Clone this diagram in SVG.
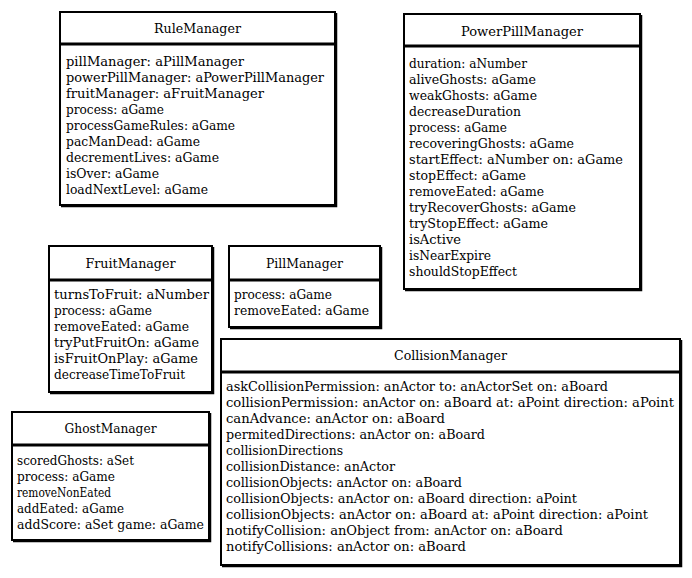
<svg xmlns="http://www.w3.org/2000/svg" width="692" height="578" viewBox="0 0 692 578">
<style>
.box{fill:#fff;stroke:#000;stroke-width:2}
.shadow{fill:none;stroke:#000;stroke-width:1.5}
.sep{stroke:#000;stroke-width:3}
text{font-family:"DejaVu Serif","Liberation Serif",serif;font-size:12px;fill:#000}
.t{text-anchor:middle}
</style>
<rect width="692" height="578" fill="#fff"/>
<g id="connectors"></g>
<g id="RuleManager">
<rect class="box" x="60" y="12" width="275" height="193"/>
<path class="shadow" d="M336.5,13 V206.5 H61"/>
<line class="sep" x1="60" y1="44" x2="335" y2="44"/>
<text class="t" x="197.5" y="33" textLength="87" lengthAdjust="spacingAndGlyphs">RuleManager</text>
<text x="66" y="66" textLength="178" lengthAdjust="spacingAndGlyphs">pillManager: aPillManager</text>
<text x="66" y="82" textLength="258" lengthAdjust="spacingAndGlyphs">powerPillManager: aPowerPillManager</text>
<text x="66" y="98" textLength="198" lengthAdjust="spacingAndGlyphs">fruitManager: aFruitManager</text>
<text x="66" y="114" textLength="98" lengthAdjust="spacingAndGlyphs">process: aGame</text>
<text x="66" y="130" textLength="169" lengthAdjust="spacingAndGlyphs">processGameRules: aGame</text>
<text x="66" y="146" textLength="134" lengthAdjust="spacingAndGlyphs">pacManDead: aGame</text>
<text x="66" y="162" textLength="153" lengthAdjust="spacingAndGlyphs">decrementLives: aGame</text>
<text x="66" y="178" textLength="93" lengthAdjust="spacingAndGlyphs">isOver: aGame</text>
<text x="66" y="194" textLength="142" lengthAdjust="spacingAndGlyphs">loadNextLevel: aGame</text>
</g>
<g id="PowerPillManager">
<rect class="box" x="404" y="14" width="236" height="275"/>
<path class="shadow" d="M641.5,15 V290.5 H405"/>
<line class="sep" x1="404" y1="46" x2="640" y2="46"/>
<text class="t" x="522" y="36" textLength="122" lengthAdjust="spacingAndGlyphs">PowerPillManager</text>
<text x="409" y="68" textLength="118" lengthAdjust="spacingAndGlyphs">duration: aNumber</text>
<text x="409" y="84" textLength="127" lengthAdjust="spacingAndGlyphs">aliveGhosts: aGame</text>
<text x="409" y="100" textLength="128" lengthAdjust="spacingAndGlyphs">weakGhosts: aGame</text>
<text x="409" y="116" textLength="112" lengthAdjust="spacingAndGlyphs">decreaseDuration</text>
<text x="409" y="132" textLength="98" lengthAdjust="spacingAndGlyphs">process: aGame</text>
<text x="409" y="148" textLength="165" lengthAdjust="spacingAndGlyphs">recoveringGhosts: aGame</text>
<text x="409" y="164" textLength="214" lengthAdjust="spacingAndGlyphs">startEffect: aNumber on: aGame</text>
<text x="409" y="180" textLength="117" lengthAdjust="spacingAndGlyphs">stopEffect: aGame</text>
<text x="409" y="196" textLength="135" lengthAdjust="spacingAndGlyphs">removeEated: aGame</text>
<text x="409" y="212" textLength="167" lengthAdjust="spacingAndGlyphs">tryRecoverGhosts: aGame</text>
<text x="409" y="228" textLength="139" lengthAdjust="spacingAndGlyphs">tryStopEffect: aGame</text>
<text x="409" y="244" textLength="52" lengthAdjust="spacingAndGlyphs">isActive</text>
<text x="409" y="260" textLength="82" lengthAdjust="spacingAndGlyphs">isNearExpire</text>
<text x="409" y="276" textLength="108" lengthAdjust="spacingAndGlyphs">shouldStopEffect</text>
</g>
<g id="FruitManager">
<rect class="box" x="49" y="246" width="163" height="146"/>
<path class="shadow" d="M213.5,247 V393.5 H50"/>
<line class="sep" x1="49" y1="280" x2="212" y2="280"/>
<text class="t" x="130.5" y="268" textLength="90" lengthAdjust="spacingAndGlyphs">FruitManager</text>
<text x="54" y="299" textLength="155" lengthAdjust="spacingAndGlyphs">turnsToFruit: aNumber</text>
<text x="54" y="315" textLength="98" lengthAdjust="spacingAndGlyphs">process: aGame</text>
<text x="54" y="331" textLength="135" lengthAdjust="spacingAndGlyphs">removeEated: aGame</text>
<text x="54" y="347" textLength="145" lengthAdjust="spacingAndGlyphs">tryPutFruitOn: aGame</text>
<text x="54" y="363" textLength="144" lengthAdjust="spacingAndGlyphs">isFruitOnPlay: aGame</text>
<text x="54" y="379" textLength="131" lengthAdjust="spacingAndGlyphs">decreaseTimeToFruit</text>
</g>
<g id="PillManager">
<rect class="box" x="229" y="246" width="151" height="81"/>
<path class="shadow" d="M381.5,247 V328.5 H230"/>
<line class="sep" x1="229" y1="280" x2="380" y2="280"/>
<text class="t" x="304.5" y="268" textLength="77" lengthAdjust="spacingAndGlyphs">PillManager</text>
<text x="234" y="299" textLength="98" lengthAdjust="spacingAndGlyphs">process: aGame</text>
<text x="234" y="315" textLength="135" lengthAdjust="spacingAndGlyphs">removeEated: aGame</text>
</g>
<g id="CollisionManager">
<rect class="box" x="221" y="339" width="459" height="226"/>
<path class="shadow" d="M681.5,340 V566.5 H222"/>
<line class="sep" x1="221" y1="372" x2="680" y2="372"/>
<text class="t" x="450.5" y="360" textLength="113" lengthAdjust="spacingAndGlyphs">CollisionManager</text>
<text x="226" y="391" textLength="382" lengthAdjust="spacingAndGlyphs">askCollisionPermission: anActor to: anActorSet on: aBoard</text>
<text x="226" y="407" textLength="448" lengthAdjust="spacingAndGlyphs">collisionPermission: anActor on: aBoard at: aPoint direction: aPoint</text>
<text x="226" y="423" textLength="219" lengthAdjust="spacingAndGlyphs">canAdvance: anActor on: aBoard</text>
<text x="226" y="439" textLength="259" lengthAdjust="spacingAndGlyphs">permitedDirections: anActor on: aBoard</text>
<text x="226" y="455" textLength="117" lengthAdjust="spacingAndGlyphs">collisionDirections</text>
<text x="226" y="471" textLength="169" lengthAdjust="spacingAndGlyphs">collisionDistance: anActor</text>
<text x="226" y="487" textLength="236" lengthAdjust="spacingAndGlyphs">collisionObjects: anActor on: aBoard</text>
<text x="226" y="503" textLength="351" lengthAdjust="spacingAndGlyphs">collisionObjects: anActor on: aBoard direction: aPoint</text>
<text x="226" y="519" textLength="422" lengthAdjust="spacingAndGlyphs">collisionObjects: anActor on: aBoard at: aPoint direction: aPoint</text>
<text x="226" y="535" textLength="337" lengthAdjust="spacingAndGlyphs">notifyCollision: anObject from: anActor on: aBoard</text>
<text x="226" y="551" textLength="240" lengthAdjust="spacingAndGlyphs">notifyCollisions: anActor on: aBoard</text>
</g>
<g id="GhostManager">
<rect class="box" x="12" y="412" width="197" height="128"/>
<path class="shadow" d="M210.5,413 V541.5 H13"/>
<line class="sep" x1="12" y1="445" x2="209" y2="445"/>
<text class="t" x="110.5" y="433" textLength="92" lengthAdjust="spacingAndGlyphs">GhostManager</text>
<text x="17" y="465" textLength="117" lengthAdjust="spacingAndGlyphs">scoredGhosts: aSet</text>
<text x="17" y="481" textLength="98" lengthAdjust="spacingAndGlyphs">process: aGame</text>
<text x="17" y="497" textLength="94" lengthAdjust="spacingAndGlyphs">removeNonEated</text>
<text x="17" y="513" textLength="107" lengthAdjust="spacingAndGlyphs">addEated: aGame</text>
<text x="17" y="529" textLength="187" lengthAdjust="spacingAndGlyphs">addScore: aSet game: aGame</text>
</g>
</svg>
